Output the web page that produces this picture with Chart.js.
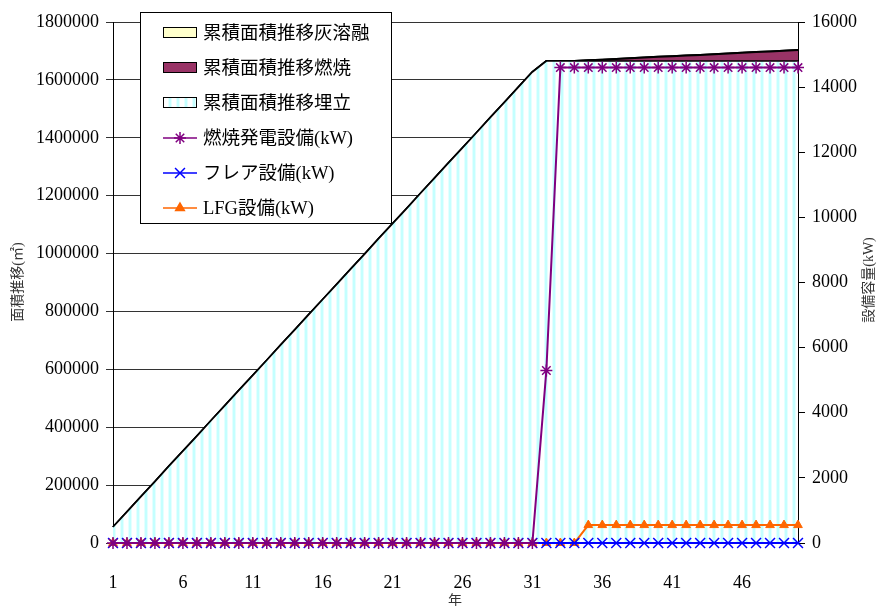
<!DOCTYPE html>
<html>
<head>
<meta charset="utf-8">
<script src="https://cdn.jsdelivr.net/npm/chart.js@4"></script>
<style>
  html, body { margin: 0; padding: 0; background: #fff; }
  #wrap { width: 879px; height: 606px; position: relative; }
</style>
</head>
<body>
<div id="wrap"><canvas id="chart"></canvas></div>
<script>
// years on the x axis
const years = ['1','2','3','4','5','6','7','8','9','10','11','12','13','14','15','16','17','18','19','20',
  '21','22','23','24','25','26','27','28','29','30','31','32','33','34','35','36','37','38','39','40',
  '41','42','43','44','45','46','47','48','49','50'];

// cumulative area (m2), left axis, stacked
const ashMelting = [0,0,0,0,0,0,0,0,0,0,0,0,0,0,0,0,0,0,0,0,0,0,0,0,0,0,0,0,0,0,
  0,0,0,0,0,0,0,0,0,0,0,0,0,0,0,0,0,0,0,0];
const combustion = [0,0,0,0,0,0,0,0,0,0,0,0,0,0,0,0,0,0,0,0,0,0,0,0,0,0,0,0,0,0,
  0,0,0,0,2500,5000,7500,10000,12500,15000,17000,19000,21000,23500,26000,28500,31000,33500,36000,38500];
const landfill = [55000,107000,160000,212000,265000,317000,369000,422000,474000,527000,
  579000,631000,684000,736000,789000,841000,893000,946000,998000,1051000,
  1103000,1155000,1208000,1260000,1313000,1365000,1417000,1470000,1522000,1575000,
  1627000,1665000,1665000,1665000,1665000,1665000,1665000,1665000,1665000,1665000,
  1665000,1665000,1665000,1665000,1665000,1665000,1665000,1665000,1665000,1665000];

// equipment capacity (kW), right axis
const powerPlantKW = [0,0,0,0,0,0,0,0,0,0,0,0,0,0,0,0,0,0,0,0,0,0,0,0,0,0,0,0,0,0,
  0,5300,14600,14600,14600,14600,14600,14600,14600,14600,14600,14600,14600,14600,14600,14600,14600,14600,14600,14600];
const flareKW = [0,0,0,0,0,0,0,0,0,0,0,0,0,0,0,0,0,0,0,0,0,0,0,0,0,0,0,0,0,0,
  0,0,0,0,0,0,0,0,0,0,0,0,0,0,0,0,0,0,0,0];
const lfgKW = [0,0,0,0,0,0,0,0,0,0,0,0,0,0,0,0,0,0,0,0,0,0,0,0,0,0,0,0,0,0,
  0,0,0,0,550,550,550,550,550,550,550,550,550,550,550,550,550,550,550,550];

// axis ranges
const leftTicks = [0,200000,400000,600000,800000,1000000,1200000,1400000,1600000,1800000];
const rightTicks = [0,2000,4000,6000,8000,10000,12000,14000,16000];

const serif = "'Liberation Serif', 'Noto Sans CJK JP', serif";
const jp = "'Liberation Serif', 'Noto Sans CJK JP', sans-serif";

// striped fill for landfill
function stripes() {
  const c = document.createElement('canvas');
  c.width = 8; c.height = 8;
  const g = c.getContext('2d');
  g.fillStyle = '#fff'; g.fillRect(0, 0, 8, 8);
  g.fillStyle = '#e4ffff'; g.fillRect(0, 0, 1, 8); g.fillRect(3, 0, 1, 8);
  g.fillStyle = '#c4ffff'; g.fillRect(1, 0, 2, 8);
  return c;
}

const ctx = document.getElementById('chart').getContext('2d');
const stripeFill = ctx.createPattern(stripes(), 'repeat');

const overlay = {
  id: 'overlay',
  afterDraw(chart) {
    const c = chart.ctx;
    c.save();
    // legend box
    c.fillStyle = '#fff';
    c.fillRect(140.5, 12.5, 251, 211);
    c.strokeStyle = '#000'; c.lineWidth = 1;
    c.strokeRect(140.5, 12.5, 251, 211);
    chart.data.datasets.forEach((ds, i) => {
      const y = 33 + i * 35;
      if (ds.fill) {
        c.fillStyle = ds.backgroundColor;
        c.fillRect(163.5, y - 5.5, 33, 10);
        c.strokeStyle = '#000'; c.lineWidth = 1;
        c.strokeRect(163.5, y - 5.5, 33, 10);
      } else {
        c.strokeStyle = ds.borderColor; c.lineWidth = 1.5;
        c.beginPath(); c.moveTo(163, y); c.lineTo(197, y); c.stroke();
        c.fillStyle = ds.borderColor;
        Chart.helpers.drawPoint(c, { pointStyle: ds.pointStyle, radius: ds.pointRadius, rotation: 0, borderWidth: 1.5 }, 180, y);
      }
      c.fillStyle = '#000';
      c.font = '18.5px ' + jp;
      c.textAlign = 'left'; c.textBaseline = 'middle';
      c.fillText(ds.label, 203, y + 1);
    });
    // axis titles
    c.fillStyle = '#333';
    c.font = '14px ' + jp;
    c.textAlign = 'center'; c.textBaseline = 'middle';
    c.save(); c.translate(18, 282); c.rotate(-Math.PI / 2); c.fillText('面積推移(㎡)', 0, 0); c.restore();
    c.save(); c.translate(869, 280); c.rotate(-Math.PI / 2); c.fillText('設備容量(kW)', 0, 0); c.restore();
    c.fillText('年', 455, 601);
    c.restore();
  }
};

new Chart(ctx, {
  type: 'line',
  data: {
    labels: years,
    datasets: [
      { label: '累積面積推移灰溶融', data: ashMelting, yAxisID: 'y', order: 6, fill: 'origin',
        backgroundColor: '#ffffcc', borderColor: '#000', borderWidth: 2, pointRadius: 0, stack: 'area' },
      { label: '累積面積推移燃焼', data: combustion, yAxisID: 'y', order: 5, fill: 'origin',
        backgroundColor: '#993366', borderColor: '#000', borderWidth: 2, pointRadius: 0, stack: 'area' },
      { label: '累積面積推移埋立', data: landfill, yAxisID: 'y', order: 4, fill: 'origin',
        backgroundColor: stripeFill, borderColor: '#000', borderWidth: 1.5, pointRadius: 0, stack: 'area' },
      { label: '燃焼発電設備(kW)', data: powerPlantKW, yAxisID: 'y1', order: 1, fill: false, clip: false,
        borderColor: '#800080', backgroundColor: '#800080', borderWidth: 2,
        pointStyle: 'star', pointRadius: 6, pointBorderWidth: 1.5 },
      { label: 'フレア設備(kW)', data: flareKW, yAxisID: 'y1', order: 2, fill: false, clip: false,
        borderColor: '#0000ff', backgroundColor: '#0000ff', borderWidth: 2,
        pointStyle: 'crossRot', pointRadius: 7, pointBorderWidth: 1.5 },
      { label: 'LFG設備(kW)', data: lfgKW, yAxisID: 'y1', order: 3, fill: false, clip: false,
        borderColor: '#ff6600', backgroundColor: '#ff6600', borderWidth: 2,
        pointStyle: 'triangle', pointRadius: 5, pointBorderWidth: 1 }
    ]
  },
  options: {
    responsive: true,
    maintainAspectRatio: false,
    animation: false,
    layout: { padding: { left: 0, right: 0, top: 22, bottom: 0 } },
    elements: { line: { tension: 0 } },
    plugins: { legend: { display: false }, tooltip: { enabled: false } },
    scales: {
      x: {
        grid: { display: false },
        border: { display: true, color: '#000', width: 1 },
        ticks: {
          autoSkip: false, maxRotation: 0, padding: 21,
          color: '#000', font: { family: serif, size: 18 },
          callback: (v, i) => (i % 5 === 0 ? years[i] : '')
        },
        afterFit: s => { s.height = 63; }
      },
      y: {
        position: 'left', stacked: true,
        min: leftTicks[0], max: leftTicks[leftTicks.length - 1],
        grid: { color: '#333', tickLength: 7, drawTicks: true },
        border: { display: true, color: '#000', width: 1 },
        ticks: {
          stepSize: leftTicks[1] - leftTicks[0], padding: 7,
          color: '#000', font: { family: serif, size: 18 },
          callback: v => String(v)
        },
        afterFit: s => { s.width = 113; }
      },
      y1: {
        position: 'right',
        min: rightTicks[0], max: rightTicks[rightTicks.length - 1],
        grid: { drawOnChartArea: false, color: '#000', tickLength: 7 },
        border: { display: true, color: '#000', width: 1 },
        ticks: {
          stepSize: rightTicks[1] - rightTicks[0], padding: 7,
          color: '#000', font: { family: serif, size: 18 },
          callback: v => String(v)
        },
        afterFit: s => { s.width = 81; }
      }
    }
  },
  plugins: [overlay]
});
</script>
</body>
</html>
